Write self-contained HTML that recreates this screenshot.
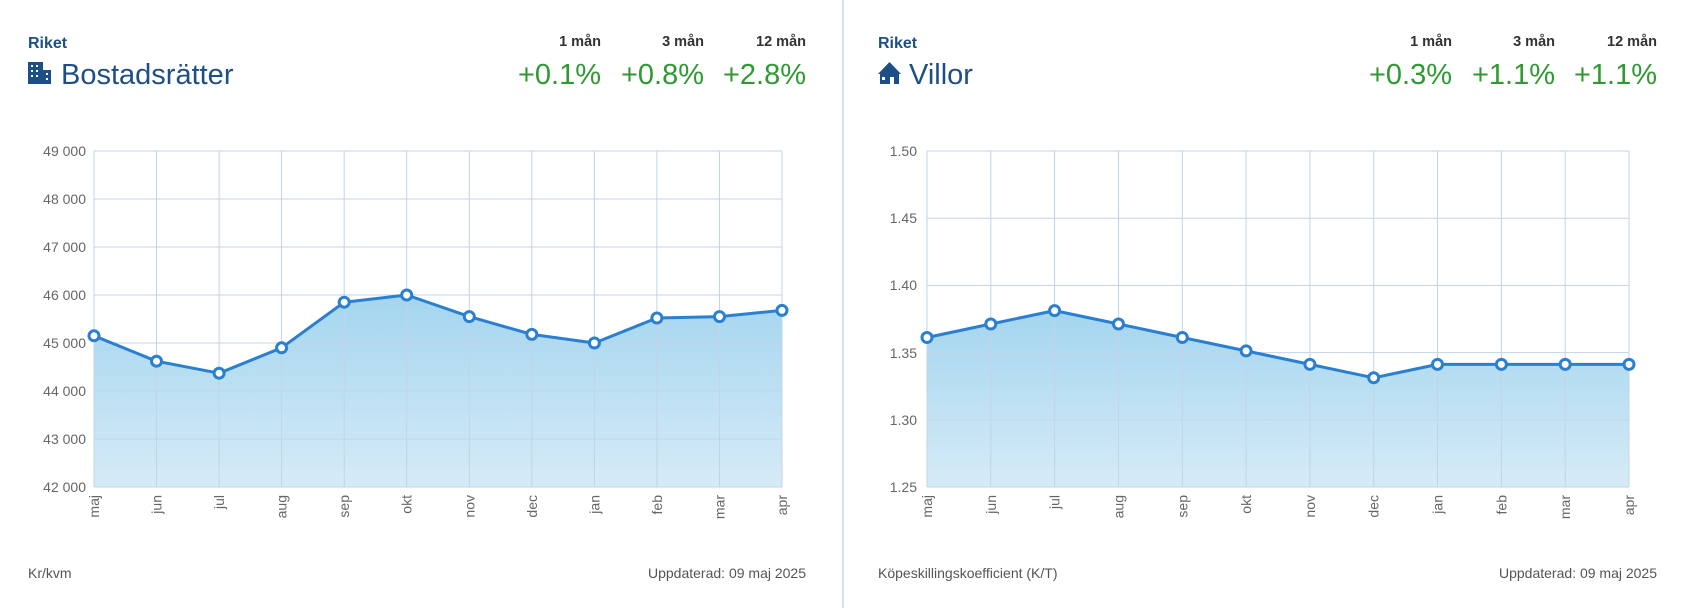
<!DOCTYPE html>
<html><head><meta charset="utf-8"><style>
html,body{margin:0;padding:0;background:#fff;}
svg{display:block;font-family:"Liberation Sans",Arial,sans-serif;}
</style></head><body>
<svg width="1696" height="608" viewBox="0 0 1696 608" xmlns="http://www.w3.org/2000/svg">
<defs>
<linearGradient id="g" x1="0" y1="0" x2="0" y2="1">
<stop offset="0" stop-color="#a4d5ef"/><stop offset="1" stop-color="#d6ebf7"/>
</linearGradient>
</defs>
<line x1="843" y1="0" x2="843" y2="608" stroke="#c5d6e6" stroke-width="1.5"/>

<!-- LEFT HEADER -->
<text x="28" y="48" font-size="16" font-weight="bold" fill="#1d4f87">Riket</text>
<g fill="#1d4f87">
<rect x="28" y="62" width="15" height="22"/><rect x="43" y="70" width="8" height="14"/>
</g>
<g fill="#fff">
<rect x="31" y="65" width="2" height="2"/><rect x="36" y="65" width="2" height="2"/>
<rect x="31" y="70" width="2" height="2"/><rect x="36" y="70" width="2" height="2"/>
<rect x="31" y="75" width="2" height="2"/><rect x="36" y="75" width="2" height="2"/>
<rect x="46" y="73" width="2" height="2"/><rect x="46" y="78" width="2" height="2"/>
</g>
<text x="61" y="84" font-size="29" fill="#1d4f87">Bostadsrätter</text>
<g font-size="14.5" font-weight="bold" fill="#333" text-anchor="end">
<text x="601" y="46">1 mån</text><text x="704" y="46">3 mån</text><text x="806" y="46">12 mån</text>
</g>
<g font-size="29" fill="#2f9a31" text-anchor="end">
<text x="601" y="84">+0.1%</text><text x="704" y="84">+0.8%</text><text x="806" y="84">+2.8%</text>
</g>

<!-- RIGHT HEADER -->
<text x="878" y="48" font-size="16" font-weight="bold" fill="#1d4f87">Riket</text>
<path d="M878 74 L889.5 62 L901 74 L899 74 L899 84 L880 84 L880 74 Z" fill="#1d4f87"/>
<rect x="882" y="77" width="3" height="3" fill="#fff"/><rect x="890" y="77" width="4" height="7" fill="#fff"/>
<text x="909" y="84" font-size="29" fill="#1d4f87">Villor</text>
<g font-size="14.5" font-weight="bold" fill="#333" text-anchor="end">
<text x="1452" y="46">1 mån</text><text x="1555" y="46">3 mån</text><text x="1657" y="46">12 mån</text>
</g>
<g font-size="29" fill="#2f9a31" text-anchor="end">
<text x="1452" y="84">+0.3%</text><text x="1555" y="84">+1.1%</text><text x="1657" y="84">+1.1%</text>
</g>

<!-- LEFT CHART -->
<path d="M94,335.8 L156.5,361.2 L219.1,373.2 L281.6,347.8 L344.2,302.2 L406.7,295 L469.3,316.6 L531.8,334.4 L594.4,343 L656.9,318 L719.5,316.6 L782,310.4 L782,487 L94,487 Z" fill="url(#g)"/>
<g stroke="#c3d4e4" stroke-width="1" fill="none">
<line x1="94" y1="151" x2="782" y2="151"/><line x1="94" y1="199" x2="782" y2="199"/>
<line x1="94" y1="247" x2="782" y2="247"/><line x1="94" y1="295" x2="782" y2="295"/>
<line x1="94" y1="343" x2="782" y2="343"/><line x1="94" y1="391" x2="782" y2="391"/>
<line x1="94" y1="439" x2="782" y2="439"/><line x1="94" y1="487" x2="782" y2="487"/>
<line x1="94" y1="151" x2="94" y2="487"/><line x1="156.5" y1="151" x2="156.5" y2="487"/>
<line x1="219.1" y1="151" x2="219.1" y2="487"/><line x1="281.6" y1="151" x2="281.6" y2="487"/>
<line x1="344.2" y1="151" x2="344.2" y2="487"/><line x1="406.7" y1="151" x2="406.7" y2="487"/>
<line x1="469.3" y1="151" x2="469.3" y2="487"/><line x1="531.8" y1="151" x2="531.8" y2="487"/>
<line x1="594.4" y1="151" x2="594.4" y2="487"/><line x1="656.9" y1="151" x2="656.9" y2="487"/>
<line x1="719.5" y1="151" x2="719.5" y2="487"/><line x1="782" y1="151" x2="782" y2="487"/>
</g>
<polyline points="94,335.8 156.5,361.2 219.1,373.2 281.6,347.8 344.2,302.2 406.7,295 469.3,316.6 531.8,334.4 594.4,343 656.9,318 719.5,316.6 782,310.4" fill="none" stroke="#2b7fd0" stroke-width="3" stroke-linejoin="round"/>
<g fill="#fff" stroke="#2b7fd0" stroke-width="3">
<circle cx="94" cy="335.8" r="5"/><circle cx="156.5" cy="361.2" r="5"/><circle cx="219.1" cy="373.2" r="5"/>
<circle cx="281.6" cy="347.8" r="5"/><circle cx="344.2" cy="302.2" r="5"/><circle cx="406.7" cy="295" r="5"/>
<circle cx="469.3" cy="316.6" r="5"/><circle cx="531.8" cy="334.4" r="5"/><circle cx="594.4" cy="343" r="5"/>
<circle cx="656.9" cy="318" r="5"/><circle cx="719.5" cy="316.6" r="5"/><circle cx="782" cy="310.4" r="5"/>
</g>
<g font-size="14" fill="#666" text-anchor="end">
<text x="86" y="156">49 000</text><text x="86" y="204">48 000</text><text x="86" y="252">47 000</text>
<text x="86" y="300">46 000</text><text x="86" y="348">45 000</text><text x="86" y="396">44 000</text>
<text x="86" y="444">43 000</text><text x="86" y="492">42 000</text>
</g>
<g font-size="14" fill="#666" text-anchor="end">
<text transform="translate(99,495) rotate(-90)">maj</text>
<text transform="translate(161.5,495) rotate(-90)">jun</text>
<text transform="translate(224.1,495) rotate(-90)">jul</text>
<text transform="translate(286.6,495) rotate(-90)">aug</text>
<text transform="translate(349.2,495) rotate(-90)">sep</text>
<text transform="translate(411.7,495) rotate(-90)">okt</text>
<text transform="translate(474.3,495) rotate(-90)">nov</text>
<text transform="translate(536.8,495) rotate(-90)">dec</text>
<text transform="translate(599.4,495) rotate(-90)">jan</text>
<text transform="translate(661.9,495) rotate(-90)">feb</text>
<text transform="translate(724.5,495) rotate(-90)">mar</text>
<text transform="translate(787,495) rotate(-90)">apr</text>
</g>
<text x="28" y="578" font-size="14" fill="#555">Kr/kvm</text>
<text x="806" y="578" font-size="14" fill="#555" text-anchor="end">Uppdaterad: 09 maj 2025</text>

<!-- RIGHT CHART -->
<path d="M927,337.5 L990.8,324 L1054.6,310.6 L1118.5,324 L1182.3,337.5 L1246.1,350.9 L1309.9,364.4 L1373.7,377.8 L1437.5,364.4 L1501.4,364.4 L1565.2,364.4 L1629,364.4 L1629,487 L927,487 Z" fill="url(#g)"/>
<g stroke="#c3d4e4" stroke-width="1" fill="none">
<line x1="927" y1="151" x2="1629" y2="151"/><line x1="927" y1="218.2" x2="1629" y2="218.2"/>
<line x1="927" y1="285.4" x2="1629" y2="285.4"/><line x1="927" y1="352.6" x2="1629" y2="352.6"/>
<line x1="927" y1="419.8" x2="1629" y2="419.8"/><line x1="927" y1="487" x2="1629" y2="487"/>
<line x1="927" y1="151" x2="927" y2="487"/><line x1="990.8" y1="151" x2="990.8" y2="487"/>
<line x1="1054.6" y1="151" x2="1054.6" y2="487"/><line x1="1118.5" y1="151" x2="1118.5" y2="487"/>
<line x1="1182.3" y1="151" x2="1182.3" y2="487"/><line x1="1246.1" y1="151" x2="1246.1" y2="487"/>
<line x1="1309.9" y1="151" x2="1309.9" y2="487"/><line x1="1373.7" y1="151" x2="1373.7" y2="487"/>
<line x1="1437.5" y1="151" x2="1437.5" y2="487"/><line x1="1501.4" y1="151" x2="1501.4" y2="487"/>
<line x1="1565.2" y1="151" x2="1565.2" y2="487"/><line x1="1629" y1="151" x2="1629" y2="487"/>
</g>
<polyline points="927,337.5 990.8,324 1054.6,310.6 1118.5,324 1182.3,337.5 1246.1,350.9 1309.9,364.4 1373.7,377.8 1437.5,364.4 1501.4,364.4 1565.2,364.4 1629,364.4" fill="none" stroke="#2b7fd0" stroke-width="3" stroke-linejoin="round"/>
<g fill="#fff" stroke="#2b7fd0" stroke-width="3">
<circle cx="927" cy="337.5" r="5"/><circle cx="990.8" cy="324" r="5"/><circle cx="1054.6" cy="310.6" r="5"/>
<circle cx="1118.5" cy="324" r="5"/><circle cx="1182.3" cy="337.5" r="5"/><circle cx="1246.1" cy="350.9" r="5"/>
<circle cx="1309.9" cy="364.4" r="5"/><circle cx="1373.7" cy="377.8" r="5"/><circle cx="1437.5" cy="364.4" r="5"/>
<circle cx="1501.4" cy="364.4" r="5"/><circle cx="1565.2" cy="364.4" r="5"/><circle cx="1629" cy="364.4" r="5"/>
</g>
<g font-size="14" fill="#666" text-anchor="end">
<text x="917" y="156">1.50</text><text x="917" y="223">1.45</text><text x="917" y="290">1.40</text>
<text x="917" y="358">1.35</text><text x="917" y="425">1.30</text><text x="917" y="492">1.25</text>
</g>
<g font-size="14" fill="#666" text-anchor="end">
<text transform="translate(932,495) rotate(-90)">maj</text>
<text transform="translate(995.8,495) rotate(-90)">jun</text>
<text transform="translate(1059.6,495) rotate(-90)">jul</text>
<text transform="translate(1123.5,495) rotate(-90)">aug</text>
<text transform="translate(1187.3,495) rotate(-90)">sep</text>
<text transform="translate(1251.1,495) rotate(-90)">okt</text>
<text transform="translate(1314.9,495) rotate(-90)">nov</text>
<text transform="translate(1378.7,495) rotate(-90)">dec</text>
<text transform="translate(1442.5,495) rotate(-90)">jan</text>
<text transform="translate(1506.4,495) rotate(-90)">feb</text>
<text transform="translate(1570.2,495) rotate(-90)">mar</text>
<text transform="translate(1634,495) rotate(-90)">apr</text>
</g>
<text x="878" y="578" font-size="14" fill="#555">Köpeskillingskoefficient (K/T)</text>
<text x="1657" y="578" font-size="14" fill="#555" text-anchor="end">Uppdaterad: 09 maj 2025</text>
</svg>
</body></html>
